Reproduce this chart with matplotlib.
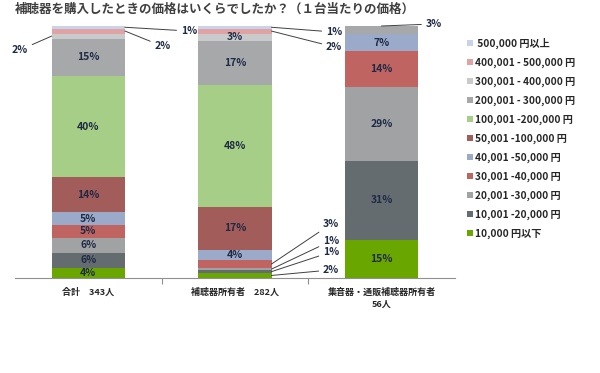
import numpy as np
import matplotlib
matplotlib.use("Agg")
import matplotlib.pyplot as plt

plt.rcParams['font.family'] = ['Noto Sans CJK JP', 'DejaVu Sans']

# price bands, bottom of the stack first
bands = ['10,000 円以下', '10,001 -20,000 円', '20,001 -30,000 円', '30,001 -40,000 円',
         '40,001 -50,000 円', '50,001 -100,000 円', '100,001 -200,000 円',
         '200,001 - 300,000 円', '300,001 - 400,000 円', '400,001 - 500,000 円',
         ' 500,000 円以上']
colors = ['#6aa600', '#646c70', '#a0a2a4', '#c06462', '#9aaac8', '#a25c5a',
          '#a6ce86', '#a6a8aa', '#c9cacc', '#e0a2a2', '#c8d2e8']

groups = ['合計　343人', '補聴器所有者　282人', '集音器・通販補聴器所有者\n56人']
total = [4, 6, 6, 5, 5, 14, 40, 15, 2, 2, 1]
owners = [2, 1, 1, 3, 4, 17, 48, 17, 3, 2, 1]
others = [15, 31, 29, 14, 7, 0, 0, 3, 0, 0, 0]
values = np.array([total, owners, others], dtype=float)

# (group, band) -> label position (x, y in data units) for the small slices
callouts = {
    (0, 10): (0.63, 98.0), (0, 9): (0.45, 92.0), (0, 8): (-0.41, 90.5),
    (1, 10): (1.62, 97.6), (1, 9): (1.62, 91.7),
    (1, 3): (1.60, 21.4), (1, 2): (1.60, 14.7), (1, 1): (1.60, 10.3), (1, 0): (1.60, 3.2),
    (2, 7): (2.30, 100.8),
}
inside_small = {(1, 8)}

fig = plt.figure(figsize=(6, 3.73), dpi=100)
ax = fig.add_axes([0.025, 0.2547, 0.733, 0.6756])

x = np.arange(len(groups))
heights = values / values.sum(axis=1, keepdims=True) * 100
bottom = np.zeros(len(groups))
handles = []
for j, band in enumerate(bands):
    h = heights[:, j]
    b = ax.bar(x, h, 0.5, bottom=bottom, color=colors[j], label=band, linewidth=0)
    handles.append(b)
    for i in range(len(groups)):
        v = values[i, j]
        if v == 0:
            continue
        mid = bottom[i] + h[i] / 2
        if (i, j) in callouts:
            tx, ty = callouts[(i, j)]
            ha = 'left'
            if i == 2:
                ax_xy = (x[i], bottom[i] + h[i])
            elif tx < x[i]:
                ax_xy = (x[i] - 0.25, mid)
                ha = 'right'
            else:
                ax_xy = (x[i] + 0.25, mid)
            ax.annotate(f'{v:.0f}%', xy=ax_xy, xytext=(tx, ty), ha=ha, va='center',
                        fontsize=7.5, fontweight='bold', color='#1f2a44',
                        annotation_clip=False,
                        arrowprops=dict(arrowstyle='-', color='#404040', lw=0.7,
                                        shrinkA=1, shrinkB=0))
        elif v >= 4 or (i, j) in inside_small:
            ax.text(x[i], mid, f'{v:.0f}%', ha='center', va='center',
                    fontsize=7.5, fontweight='bold', color='#1f2a44')
    bottom += h

ax.set_xlim(-0.5, 2.5)
ax.set_ylim(0, 100)
for s in ['left', 'right', 'top']:
    ax.spines[s].set_visible(False)
ax.spines['bottom'].set_color('#909090')
ax.spines['bottom'].set_linewidth(0.8)
ax.set_yticks([])
ax.set_xticks([0.5, 1.5])
ax.set_xticklabels([])
ax.tick_params(axis='x', length=4, color='#909090', direction='out')
for i, g in enumerate(groups):
    ax.text(x[i], -4.0, g, ha='center', va='top', fontsize=6.5, fontweight='bold',
            color='#262626', linespacing=1.3)

leg = fig.legend(handles=handles[::-1], labels=bands[::-1], loc='upper left',
                 bbox_to_anchor=(0.772, 0.91), frameon=False, fontsize=7.3,
                 handlelength=0.6, handleheight=0.6, handletextpad=0.15,
                 labelspacing=0.86, borderaxespad=0)
for t in leg.get_texts():
    t.set_fontweight('bold')
    t.set_color('#262626')

fig.text(0.025, 0.976, '補聴器を購入したときの価格はいくらでしたか？（１台当たりの価格）',
         ha='left', va='center', fontsize=9, fontweight='bold', color='#404040')

fig.savefig('out.png', dpi=100)
